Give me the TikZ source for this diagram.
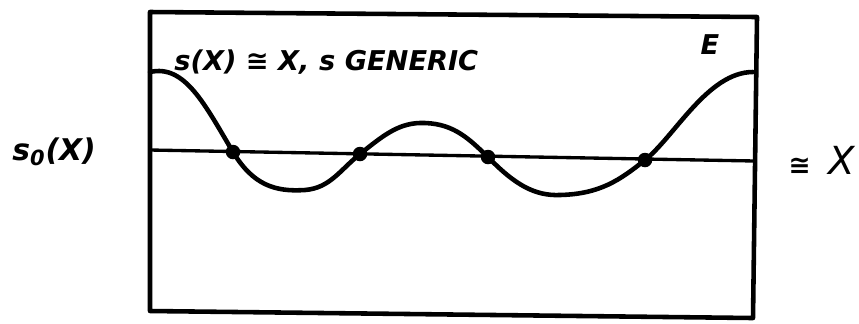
\documentclass[tikz,border=0pt]{standalone}
\usepackage{fontspec}
\setsansfont{DejaVu Sans}
\usetikzlibrary{positioning}

\begin{document}
\begin{tikzpicture}[
    x=0.2mm, y=-0.2mm,
    frame/.style={line width=2.6pt, line join=round},
    curve/.style={line width=2.6pt, line cap=round},
    fibre/.style={line width=1.9pt},
    dot/.style={circle, fill=black, inner sep=0pt, minimum size=2.9mm},
    lbl/.style={font=\sffamily\bfseries\itshape\fontsize{15.5}{18}\selectfont, inner sep=0pt},
]
\useasboundingbox (0,0) rectangle (859,323);

% Frame E
\draw[frame] (150,12) -- (757,17) -- (753,318) -- (150,311) -- cycle;

% Zero section s_0(X)
\coordinate (zl) at (150,150);
\coordinate (zr) at (755,161);
\draw[fibre] (zl) -- (zr);

% Generic section s
\draw[curve] (150,72)
    .. controls (185,64) and (205,105) .. (233,152)
    .. controls (253,185) and (275,192) .. (305,190)
    .. controls (330,188) and (340,170) .. (360,154)
    .. controls (385,134) and (400,122) .. (425,123)
    .. controls (455,124) and (470,140) .. (488,157)
    .. controls (515,185) and (535,196) .. (560,195)
    .. controls (600,194) and (620,180) .. (645,160)
    .. controls (675,136) and (708,72) .. (753,72);

% Zeros of s
\node[dot] (z1) at (233,152) {};
\node[dot] (z2) at (360,154) {};
\node[dot] (z3) at (488,157) {};
\node[dot] (z4) at (645,160) {};

% Labels
\node[lbl, anchor=west] (title) at (174,62) {s(X) ≅ X, s GENERIC};
\node[lbl] (bundle) at (710,45) {E};
\node[lbl, anchor=west, font=\sffamily\bfseries\itshape\fontsize{17}{20}\selectfont] (zero) at (12,152) {s\textsubscript{0}(X)};
\node[lbl, anchor=east, font=\sffamily\itshape\fontsize{22}{26}\selectfont] (base) at (855,160) {{\bfseries\fontsize{15}{18}\selectfont ≅}\hspace{3.5mm}X};
\end{tikzpicture}
\end{document}
